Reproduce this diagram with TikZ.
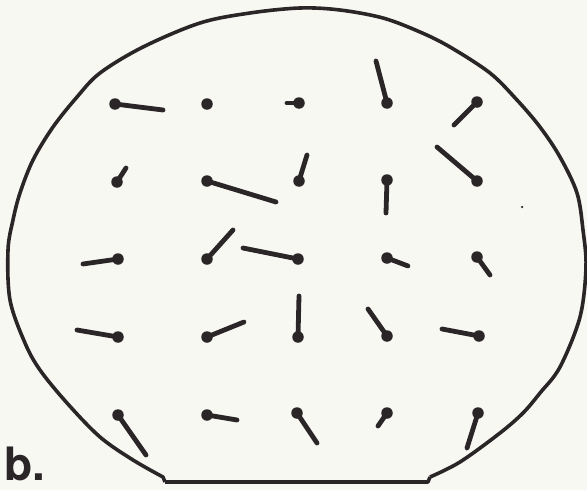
\documentclass[tikz,border=0pt]{standalone}
\usepackage{fontspec}
\setmainfont{TeX Gyre Heros}
\definecolor{ink}{HTML}{2A2526}
\definecolor{paper}{HTML}{F8F8F3}
\begin{document}
\begin{tikzpicture}[x=1pt,y=-1pt,
  site/.style={circle,fill=ink,inner sep=0pt,minimum size=11.5pt},
  vec/.style={draw=ink,line width=4.8pt,line cap=round},
  rim/.style={draw=ink,line width=3.6pt,line join=round}]
\fill[paper] (0,0) rectangle (587,490);
\useasboundingbox (0,0) rectangle (587,490);
% wafer outline
\draw[rim] (165,482) -- (428,482) -- (430,477)
  plot[smooth,tension=0.55] coordinates {(430,477) (460,462) (500,433) (523,413) (540,393) (560,367) (580,317) (586,267) (583,230) (577,193) (560,157) (540,127) (517,100) (490,73) (450,47) (420,32) (383,18) (340,10) (300,8) (250,13) (200,23) (143,47) (100,73) (77,97) (53,127) (33,160) (20,193) (13,220) (8,250) (10,300) (25,343) (40,370) (67,403) (100,437) (133,460) (163,477)} -- (165,482);
% measurement sites and their vectors
\foreach \n/\x/\y/\ex/\ey in {
  r1c1/115/104/163/110, r1c3/299/103/287/103, r1c4/387/103/376/61, r1c5/477/102/454/125,
  r2c1/117/182/126/168, r2c2/207/181/276/202, r2c3/299/181/307/155, r2c4/387/180/386/213, r2c5/477/181/437/147,
  r3c1/118/259/83/264, r3c2/207/259/233/230, r3c3/298/259/243/248, r3c4/387/258/408/266, r3c5/477/257/490/275,
  r4c1/118/337/77/330, r4c2/207/337/244/322, r4c3/298/337/299/296, r4c4/387/336/368/309, r4c5/479/336/442/329,
  r5c1/118/415/146/455, r5c2/207/415/237/420, r5c3/297/413/317/443, r5c4/387/413/378/426, r5c5/478/413/467/448}{
  \node[site] (\n) at (\x,\y) {};
  \coordinate (\n e) at (\ex,\ey);
  \draw[vec] (\n.center) -- (\n e);
}
\node[site] (r1c2) at (207,104) {};
\node[circle,fill=ink,inner sep=0pt,minimum size=2.5pt] (speck) at (522,207) {};
% label
\node[anchor=south west,inner sep=0pt,text=ink] (lbl) at (4,481) {\fontsize{46}{46}\selectfont\bfseries b.};
\end{tikzpicture}
\end{document}
